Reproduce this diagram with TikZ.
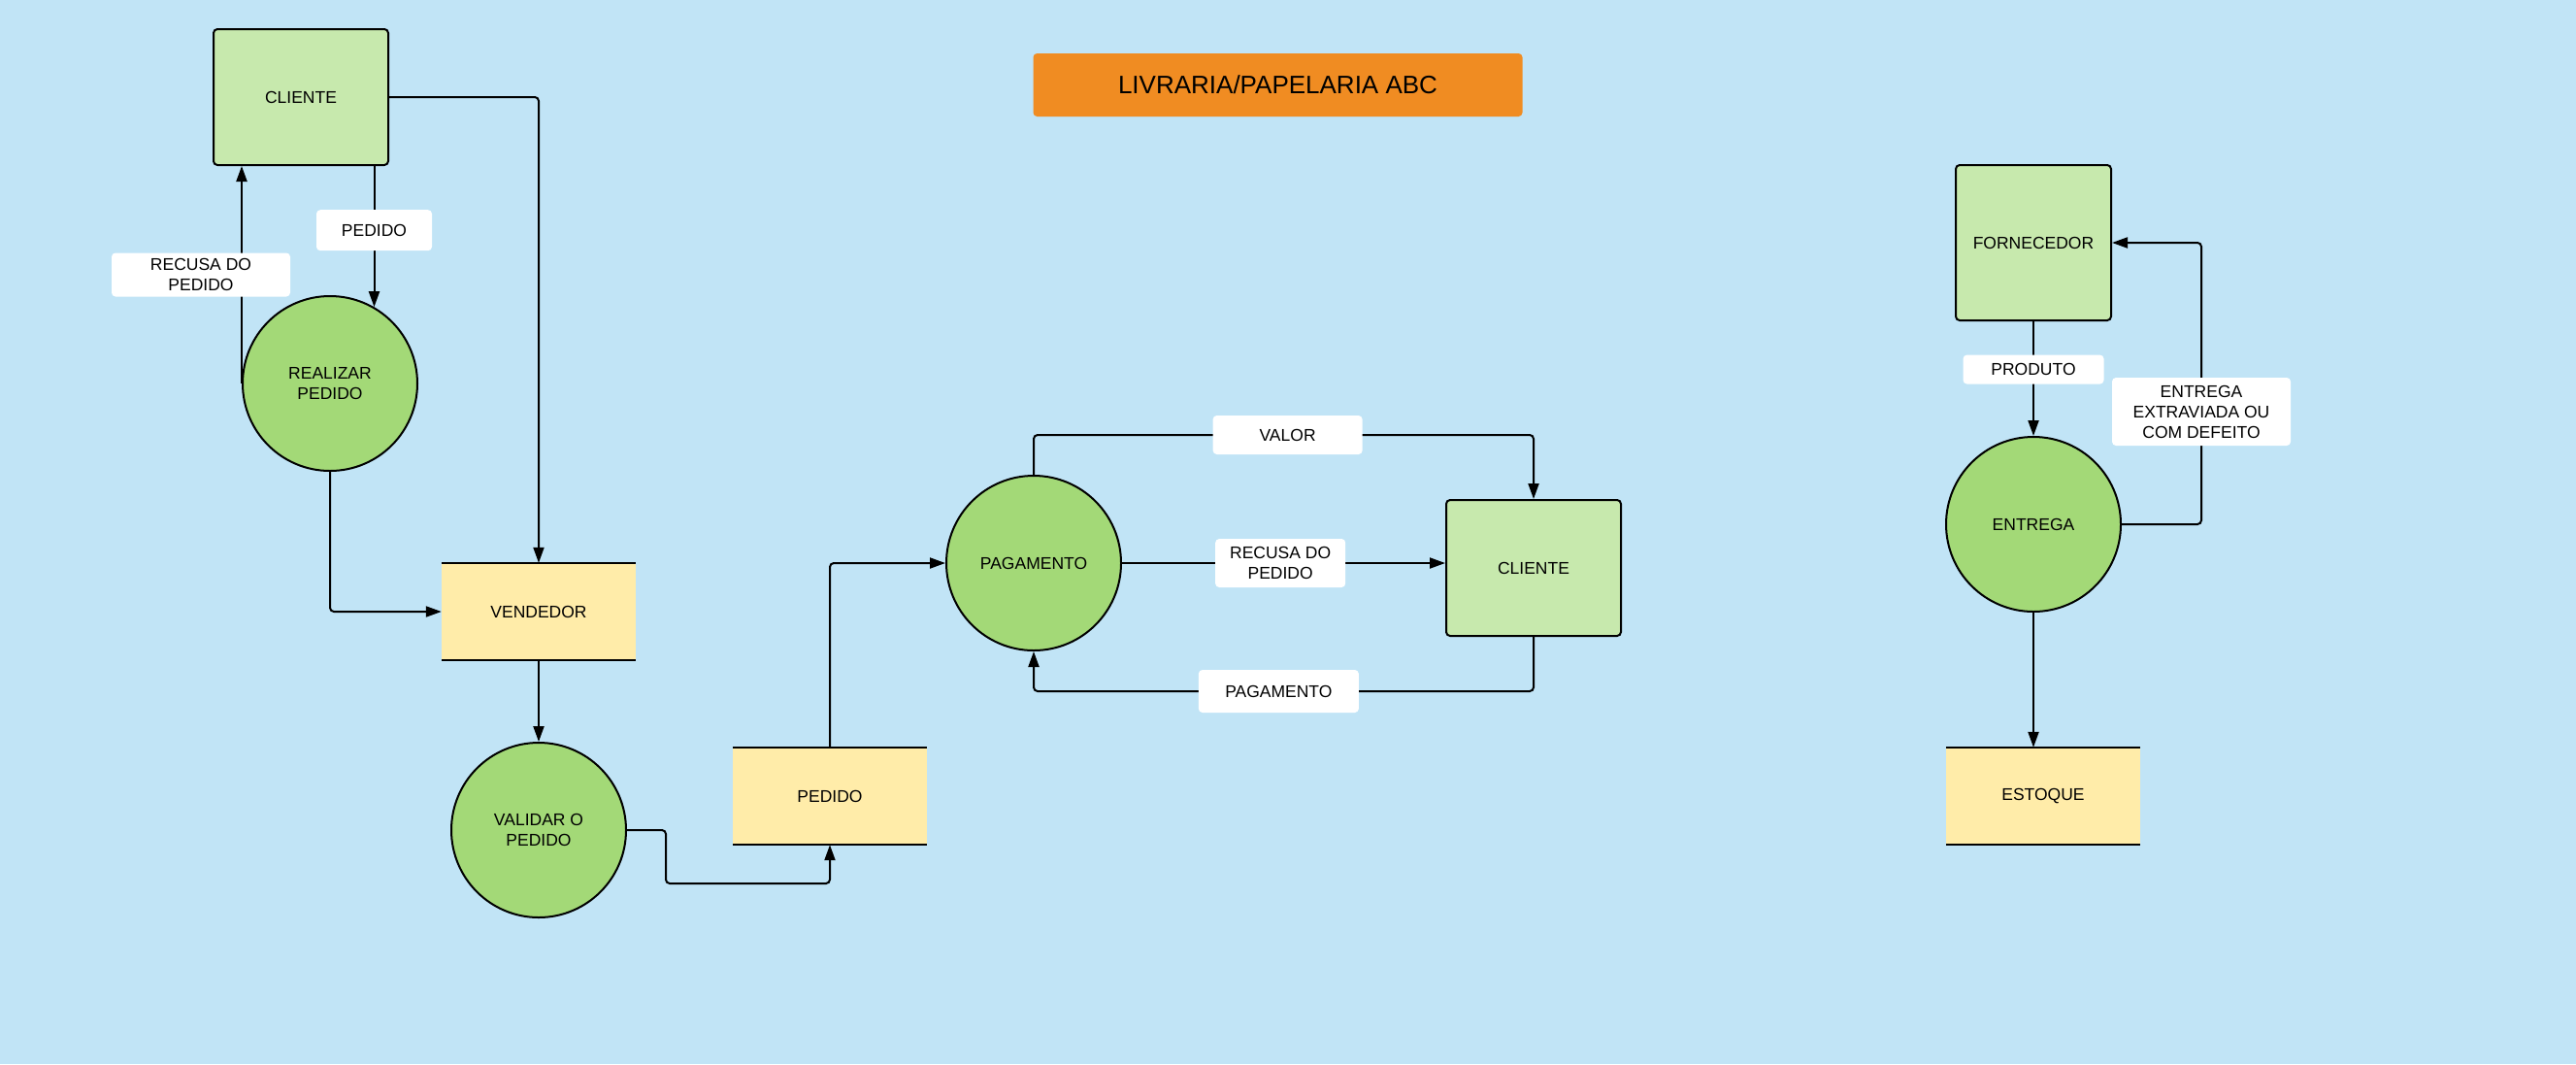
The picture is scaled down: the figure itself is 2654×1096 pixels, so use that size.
\documentclass[tikz,border=0pt]{standalone}
\usepackage{fontspec}
\setmainfont{Liberation Sans}
\usetikzlibrary{arrows.meta, positioning}

\definecolor{bgblue}{RGB}{193,228,246}
\definecolor{entitygreen}{RGB}{199,233,173}
\definecolor{processgreen}{RGB}{163,217,119}
\definecolor{storeyellow}{RGB}{255,236,169}
\definecolor{titleorange}{RGB}{240,140,34}

\tikzset{
	entity/.style={draw, line width=2pt, rounded corners=4pt, fill=entitygreen,
		minimum width=180pt, minimum height=140pt, inner sep=0pt},
	process/.style={circle, draw, line width=2pt, fill=processgreen,
		minimum size=180pt, inner sep=0pt, align=center},
	datastore/.style={fill=storeyellow, minimum width=200pt, minimum height=100pt, inner sep=0pt},
	storeline/.style={line width=2pt},
	flowlabel/.style={fill=white, rounded corners=4pt, inner sep=0pt, align=center},
	flow/.style={line width=2pt, rounded corners=4pt, -{Triangle[length=16pt, width=11pt]}},
}

\begin{document}
\begin{tikzpicture}[x=1pt, y=-1pt, font=\fontsize{17.5}{21}\selectfont]
\fill[bgblue] (0,0) rectangle (2654,1096);
\useasboundingbox (0,0) rectangle (2654,1096);

\node[fill=titleorange, rounded corners=4pt, minimum width=504pt, minimum height=65pt,
	font=\fontsize{26}{30}\selectfont] (title) at (1316.5,87.5) {LIVRARIA/PAPELARIA ABC};

% entidades externas
\node[entity] (cli1) at (310,100) {CLIENTE};
\node[entity] (cli2) at (1580,585) {CLIENTE};
\node[entity, minimum width=160pt, minimum height=160pt] (forn) at (2095,250) {FORNECEDOR};

% processos
\node[process] (realizar) at (340,395) {REALIZAR\\PEDIDO};
\node[process] (validar) at (555,855) {VALIDAR O\\PEDIDO};
\node[process] (pagamento) at (1065,580) {PAGAMENTO};
\node[process] (entrega) at (2095,540) {ENTREGA};

% depositos de dados
\node[datastore] (vend) at (555,630) {VENDEDOR};
\node[datastore] (pedido) at (855,820) {PEDIDO};
\node[datastore] (estoque) at (2105,820) {ESTOQUE};
\foreach \s in {vend, pedido, estoque}
	\draw[storeline] (\s.north west) -- (\s.north east) (\s.south west) -- (\s.south east);

% fluxos do pedido
\draw[flow] (cli1.east) -| (vend.north);
\draw[flow] (realizar.60 |- cli1.south) -- (realizar.60)
	node[flowlabel, pos=.456, minimum width=119pt, minimum height=42pt] {PEDIDO};
\draw[flow] (realizar.west) -- (realizar.west |- cli1.south);
\node[flowlabel, minimum width=184pt, minimum height=45pt] (recusa1) at (207,283) {RECUSA DO\\PEDIDO};
\draw[flow] (realizar.south) |- (vend.west);
\draw[flow] (vend.south) -- (validar.north);
\draw[flow] (validar.east) -- ++(40,0) -- ++(0,55) -| (pedido.south);
\draw[flow] (pedido.north) |- (pagamento.west);

% fluxos do pagamento
\draw[flow] (pagamento.north) -- ++(0,-41) -| (cli2.north)
	node[flowlabel, pos=.254, minimum width=154pt, minimum height=40pt] {VALOR};
\draw[flow] (pagamento.east) -- (pagamento.east -| cli2.west)
	node[flowlabel, pos=.49, minimum width=134pt, minimum height=50pt] {RECUSA DO\\PEDIDO};
\draw[flow] (cli2.south) -- ++(0,56) -| (pagamento.south)
	node[flowlabel, pos=.255, minimum width=165pt, minimum height=44pt] {PAGAMENTO};

% fluxos da entrega
\draw[flow] (forn.south) -- (entrega.north)
	node[flowlabel, pos=.42, minimum width=145pt, minimum height=30pt] {PRODUTO};
\draw[flow] (entrega.east) -- ++(82,0) |- (forn.east)
	node[flowlabel, pos=.2, minimum width=184pt, minimum height=70pt] {ENTREGA\\EXTRAVIADA OU\\COM DEFEITO};
\draw[flow] (entrega.south) -- (entrega.south |- estoque.north);
\end{tikzpicture}
\end{document}
